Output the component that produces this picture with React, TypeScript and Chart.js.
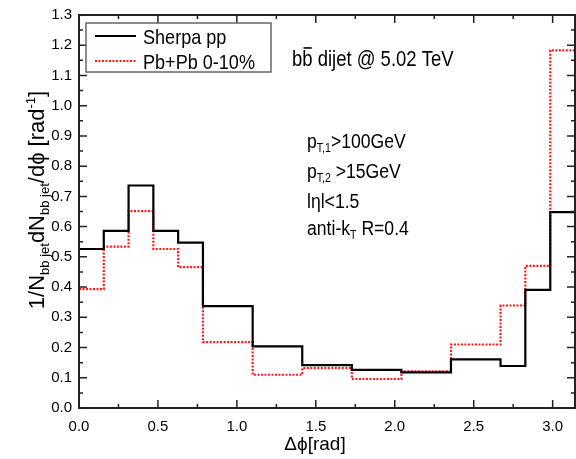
import React, { useEffect, useRef } from "react";
import { Chart, registerables } from "chart.js";

Chart.register(...registerables);

// ---- data ----
const binEdges = [0, 0.157, 0.314, 0.471, 0.628, 0.785, 1.1, 1.414, 1.728, 2.042, 2.356, 2.67, 2.827, 2.985, 3.1416];
const sherpaPP = [0.526, 0.586, 0.736, 0.586, 0.547, 0.337, 0.204, 0.142, 0.126, 0.118, 0.161, 0.139, 0.391, 0.648];
const pbpb010 = [0.393, 0.534, 0.651, 0.526, 0.466, 0.218, 0.11, 0.132, 0.096, 0.121, 0.21, 0.339, 0.47, 1.183];
const seriesLabels = ["Sherpa pp", "Pb+Pb 0-10%"];
const xTickValues = [0, 0.5, 1.0, 1.5, 2.0, 2.5, 3.0];
const yTickValues = [0, 0.1, 0.2, 0.3, 0.4, 0.5, 0.6, 0.7, 0.8, 0.9, 1.0, 1.1, 1.2, 1.3];
const xMinorStep = 0.25;
const yMinorStep = 0.05;

const FONT = '"Liberation Sans", Arial, Helvetica, sans-serif';

type Seg = { t: string; s: number; dy?: number; over?: boolean };

function richWidth(ctx: CanvasRenderingContext2D, segs: Seg[]) {
  let w = 0;
  for (const g of segs) {
    ctx.font = `${g.s}px ${FONT}`;
    w += ctx.measureText(g.t).width;
  }
  return w;
}

function drawRich(
  ctx: CanvasRenderingContext2D,
  segs: Seg[],
  x: number,
  y: number,
  align: "left" | "center",
  sx: number
) {
  ctx.save();
  ctx.textAlign = "left";
  ctx.textBaseline = "alphabetic";
  ctx.fillStyle = "#000";
  const w = richWidth(ctx, segs) * sx;
  const x0 = align === "center" ? x - w / 2 : x;
  ctx.translate(x0, y);
  ctx.scale(sx, 1);
  let cx = 0;
  for (const g of segs) {
    ctx.font = `${g.s}px ${FONT}`;
    ctx.fillText(g.t, cx, g.dy || 0);
    const gw = ctx.measureText(g.t).width;
    if (g.over) {
      ctx.strokeStyle = "#000";
      ctx.lineWidth = 1.6;
      ctx.beginPath();
      ctx.moveTo(cx + 1.5, -g.s * 0.82);
      ctx.lineTo(cx + gw - 1, -g.s * 0.82);
      ctx.stroke();
    }
    cx += gw;
  }
  ctx.restore();
}

function toSteps(values: number[]) {
  const pts = values.map((v, i) => ({ x: binEdges[i], y: v }));
  pts.push({ x: binEdges[binEdges.length - 1], y: values[values.length - 1] });
  return pts;
}

const decorPlugin = {
  id: "decor",
  afterDraw(chart: any) {
    const ctx: CanvasRenderingContext2D = chart.ctx;
    const { left, right, top, bottom } = chart.chartArea;
    const xs = chart.scales.x;
    const ys = chart.scales.y;
    ctx.save();
    // frame
    ctx.strokeStyle = "#222";
    ctx.lineWidth = 2;
    ctx.strokeRect(left, top, right - left, bottom - top);
    // ticks
    ctx.lineWidth = 1.5;
    ctx.beginPath();
    for (let v = 0; v <= xs.max + 1e-9; v += xMinorStep) {
      const px = xs.getPixelForValue(v);
      const major = Math.abs(v / 0.5 - Math.round(v / 0.5)) < 1e-6;
      const L = major ? 8 : 4;
      ctx.moveTo(px, bottom);
      ctx.lineTo(px, bottom - L);
      ctx.moveTo(px, top);
      ctx.lineTo(px, top + L);
    }
    for (let v = 0; v <= ys.max + 1e-9; v += yMinorStep) {
      const py = ys.getPixelForValue(v);
      const major = Math.abs(v / 0.1 - Math.round(v / 0.1)) < 1e-6;
      const L = major ? 8 : 4;
      ctx.moveTo(left, py);
      ctx.lineTo(left + L, py);
      ctx.moveTo(right, py);
      ctx.lineTo(right - L, py);
    }
    ctx.stroke();

    // legend box
    const lx = 86, ly = 23, lw = 185, lh = 49;
    ctx.fillStyle = "#fff";
    ctx.fillRect(lx, ly, lw, lh);
    ctx.strokeStyle = "#666";
    ctx.lineWidth = 1.5;
    ctx.strokeRect(lx, ly, lw, lh);
    const ds = chart.data.datasets;
    const rows = [36, 61];
    ds.forEach((d: any, i: number) => {
      ctx.save();
      ctx.strokeStyle = d.borderColor;
      ctx.lineWidth = d.borderWidth;
      ctx.setLineDash(d.borderDash || []);
      ctx.beginPath();
      ctx.moveTo(95, rows[i]);
      ctx.lineTo(136, rows[i]);
      ctx.stroke();
      ctx.restore();
      drawRich(ctx, [{ t: d.label, s: 21 }], 143, rows[i] + 7.5, "left", 0.86);
    });

    // annotations
    drawRich(
      ctx,
      [
        { t: "b", s: 22 },
        { t: "b", s: 22, over: true },
        { t: " dijet @ 5.02 TeV", s: 22 },
      ],
      292,
      66,
      "left",
      0.84
    );
    const sx = 0.88;
    drawRich(ctx, [{ t: "p", s: 20 }, { t: "T,1", s: 12, dy: 4 }, { t: ">100GeV", s: 20 }], 307, 148, "left", sx);
    drawRich(ctx, [{ t: "p", s: 20 }, { t: "T,2", s: 12, dy: 4 }, { t: " >15GeV", s: 20 }], 307, 178, "left", sx);
    drawRich(ctx, [{ t: "l\u03B7l<1.5", s: 20 }], 307, 208, "left", sx);
    drawRich(ctx, [{ t: "anti-k", s: 20 }, { t: "T", s: 12, dy: 4 }, { t: " R=0.4", s: 20 }], 307, 235, "left", sx);

    // x title
    drawRich(ctx, [{ t: "\u0394\u03D5[rad]", s: 19 }], 315, 450, "center", 1);

    // y title
    ctx.save();
    ctx.translate(44, 200);
    ctx.rotate(-Math.PI / 2);
    drawRich(
      ctx,
      [
        { t: "1/N", s: 22 },
        { t: "bb jet", s: 13, dy: 5 },
        { t: "dN", s: 22 },
        { t: "bb jet", s: 13, dy: 5 },
        { t: "/d\u03D5 [rad", s: 22 },
        { t: "-1", s: 13, dy: -9 },
        { t: "]", s: 22 },
      ],
      0,
      0,
      "center",
      1
    );
    ctx.restore();
    ctx.restore();
  },
};

export default function App() {
  const ref = useRef<HTMLCanvasElement | null>(null);
  useEffect(() => {
    if (!ref.current) return;
    const chart = new Chart(ref.current, {
      type: "line",
      data: {
        datasets: [
          {
            label: seriesLabels[0],
            data: toSteps(sherpaPP),
            borderColor: "#000000",
            borderWidth: 2.2,
            stepped: "before",
            pointRadius: 0,
            fill: false,
          },
          {
            label: seriesLabels[1],
            data: toSteps(pbpb010),
            borderColor: "#ff1a1a",
            borderWidth: 2.2,
            borderDash: [2, 1.5],
            stepped: "before",
            pointRadius: 0,
            fill: false,
          },
        ],
      },
      options: {
        animation: false,
        responsive: false,
        layout: { padding: { left: 0, right: 1, top: 15, bottom: 0 } },
        plugins: { legend: { display: false }, tooltip: { enabled: false }, title: { display: false } },
        scales: {
          x: {
            type: "linear",
            min: 0,
            max: Math.PI,
            afterBuildTicks: (s: any) => {
              s.ticks = xTickValues.map((v) => ({ value: v }));
            },
            afterFit: (s: any) => {
              s.height = 51;
              s.paddingLeft = 0;
              s.paddingRight = 0;
            },
            ticks: {
              callback: (v: any) => Number(v).toFixed(1),
              font: { family: FONT, size: 15 },
              color: "#000",
              padding: 10,
              maxRotation: 0,
              autoSkip: false,
            },
            grid: { display: false, drawTicks: false },
            border: { display: false },
          },
          y: {
            type: "linear",
            min: 0,
            max: 1.3,
            afterBuildTicks: (s: any) => {
              s.ticks = yTickValues.map((v) => ({ value: v }));
            },
            afterFit: (s: any) => {
              s.width = 79;
              s.paddingTop = 0;
              s.paddingBottom = 0;
            },
            ticks: {
              callback: (v: any) => Number(v).toFixed(1),
              font: { family: FONT, size: 15 },
              color: "#000",
              padding: 7,
              autoSkip: false,
            },
            grid: { display: false, drawTicks: false },
            border: { display: false },
          },
        },
      },
      plugins: [decorPlugin],
    });
    return () => chart.destroy();
  }, []);
  return (
    <div style={{ position: "absolute", left: 0, top: 0, width: 576, height: 459, background: "#fff" }}>
      <canvas ref={ref} width={576} height={459} />
    </div>
  );
}
